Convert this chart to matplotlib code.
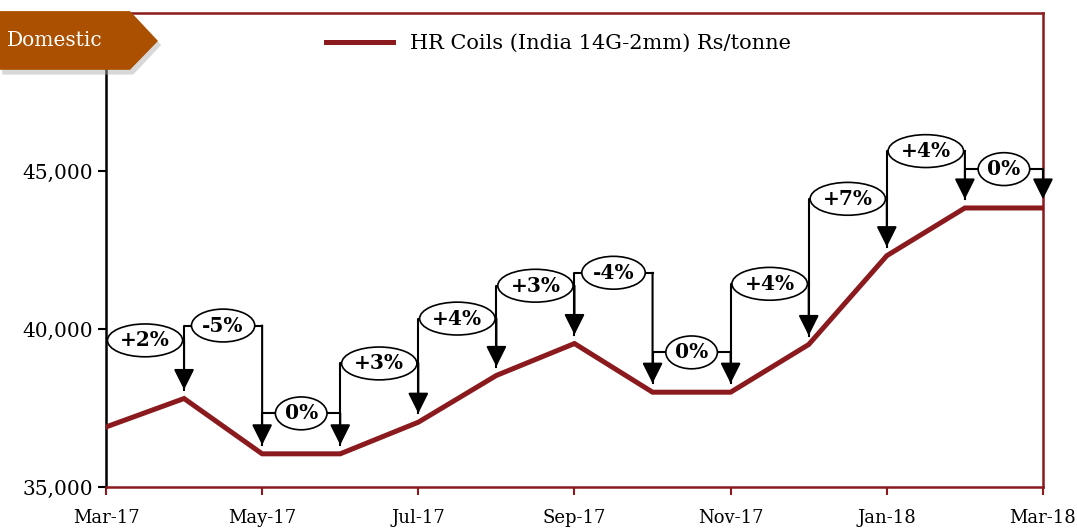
import matplotlib.pyplot as plt
from matplotlib.patches import Polygon

# HR coil prices, Mar-17 .. Mar-18 (monthly)
months = ['Mar-17', 'Apr-17', 'May-17', 'Jun-17', 'Jul-17', 'Aug-17', 'Sep-17',
          'Oct-17', 'Nov-17', 'Dec-17', 'Jan-18', 'Feb-18', 'Mar-18']
prices = [36900, 37800, 36050, 36050, 37050, 38530, 39540,
          38000, 38000, 39510, 42320, 43830, 43830]

# month-on-month change labels and the height of each bracket
changes = ['+2%', '-5%', '0%', '+3%', '+4%', '+3%', '-4%', '0%', '+4%', '+7%', '+4%', '0%']
bracket_levels = [39640, 40110, 37330, 38910, 40330, 41370, 41780,
                  39260, 41430, 44120, 45630, 45060]

tick_pos = [0, 2, 4, 6, 8, 10, 12]
yticks = [35000, 40000, 45000]

red = '#8B1A1E'
plt.rcParams['font.family'] = ['DejaVu Serif']

fig = plt.figure(figsize=(10.77, 5.29), dpi=100)
ax = fig.add_axes([0.0984, 0.0794, 0.87, 0.896])

x = list(range(len(months)))
ax.plot(x, prices, color=red, lw=3.6, solid_joinstyle='miter',
        label='HR Coils (India 14G-2mm) Rs/tonne', zorder=3)

gap = 280
for i, (lab, lvl) in enumerate(zip(changes, bracket_levels)):
    x0, x1 = i, i + 1
    # left leg and top bar
    ax.plot([x0, x0, x1], [prices[x0] + gap, lvl, lvl], color='black', lw=1.5, zorder=4)
    # right leg with arrow
    ax.annotate('', xy=(x1, prices[x1] + gap), xytext=(x1, lvl),
                arrowprops=dict(arrowstyle='-|>,head_length=1.0,head_width=0.5',
                                mutation_scale=12.5, lw=1.5, color='black',
                                shrinkA=0, shrinkB=0), zorder=4)
    ax.text((x0 + x1) / 2, lvl, lab, ha='center', va='center', fontsize=14.5,
            fontweight='bold', zorder=5,
            bbox=dict(boxstyle='ellipse,pad=0.08', fc='white', ec='black', lw=1.2))

ax.set_xlim(0, 12)
ax.set_ylim(35000, 50000)
ax.set_xticks(tick_pos)
ax.set_xticklabels([months[i] for i in tick_pos], fontsize=13)
ax.set_yticks(yticks)
ax.set_yticklabels([f'{v:,}' for v in yticks], fontsize=14.5)
ax.tick_params(axis='x', colors=red, labelcolor='black', length=6, width=1.5, pad=10)
ax.tick_params(axis='y', length=6, width=1.5)

for side in ['top', 'right', 'bottom']:
    ax.spines[side].set_color(red)
    ax.spines[side].set_linewidth(1.8)
ax.spines['left'].set_linewidth(1.8)

ax.legend(loc='upper center', bbox_to_anchor=(0.483, 0.995), frameon=False,
          fontsize=15, handlelength=3.2, handletextpad=0.8)

# "Domestic" badge
shadow = Polygon([(0.002, 0.972), (0.1237, 0.972), (0.1497, 0.915), (0.1237, 0.859), (0.002, 0.859)],
                 closed=True, transform=fig.transFigure, fc='#aaaaaa', ec='none',
                 alpha=0.45, zorder=9)
badge = Polygon([(0.0, 0.979), (0.1207, 0.979), (0.1467, 0.9225), (0.1207, 0.868), (0.0, 0.868)],
                closed=True, transform=fig.transFigure, fc='#AB5000', ec='none', zorder=10)
fig.patches.extend([shadow, badge])
fig.text(0.006, 0.9225, 'Domestic', color='white', fontsize=14.5, va='center', ha='left', zorder=11)

fig.savefig('out.png', dpi=100)
